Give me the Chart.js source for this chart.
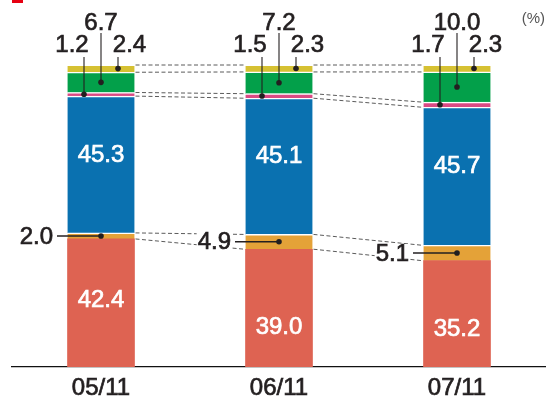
<!DOCTYPE html>
<html>
<head>
<meta charset="utf-8">
<style>
  html, body { margin: 0; padding: 0; background: #fff; }
  #wrap { position: relative; width: 546px; height: 397px; }
</style>
<script src="https://cdn.jsdelivr.net/npm/chart.js@4/dist/chart.umd.min.js"></script>
</head>
<body>
<div id="wrap"><canvas id="c" width="546" height="397"></canvas></div>
<script>
// Period labels and composition shares (%), bottom segment first
const categories  = ['05/11', '06/11', '07/11'];
const redShare    = [42.4, 39.0, 35.2];
const orangeShare = [2.0, 4.9, 5.1];
const blueShare   = [45.3, 45.1, 45.7];
const pinkShare   = [1.2, 1.5, 1.7];
const greenShare  = [6.7, 7.2, 10.0];
const yellowShare = [2.4, 2.3, 2.3];
const unitLabel   = '(%)';

// where the value sits inside the red segment (fraction of its height from the base)
const redLabelLift = [0.52, 0.34, 0.35];

const COLORS = {
  red: '#de6352', orange: '#e4a238', blue: '#0a71b0',
  pink: '#da4a84', green: '#03a04a', yellow: '#d6c132'
};
const TEXT = '#231f20';
const FONT = '"Liberation Sans", Arial, Helvetica, sans-serif';
const GAP = 1.4; // white separator between stacked segments

function seg(data, color, top) {
  return {
    data, backgroundColor: color, borderColor: '#fff',
    borderWidth: { top: top ? GAP : 0, bottom: 0, left: 0, right: 0 },
    borderSkipped: false, barThickness: 67
  };
}

function txt(ctx, s, x, y, align, color) {
  ctx.save();
  ctx.font = '24px ' + FONT;
  ctx.textAlign = align;
  ctx.textBaseline = 'middle';
  ctx.fillStyle = color;
  ctx.strokeStyle = color;
  ctx.lineWidth = 0.7;
  ctx.fillText(s, x, y);
  ctx.strokeText(s, x, y);
  ctx.restore();
}

function leader(ctx, x1, y1, x2, y2, w) {
  ctx.save();
  ctx.strokeStyle = TEXT;
  ctx.lineWidth = w;
  ctx.beginPath();
  ctx.moveTo(x1, y1);
  ctx.lineTo(x2, y2);
  ctx.stroke();
  ctx.fillStyle = TEXT;
  ctx.beginPath();
  ctx.arc(x2, y2, 2.8, 0, Math.PI * 2);
  ctx.fill();
  ctx.restore();
}

const annotations = {
  id: 'annotations',
  afterDatasetsDraw(chart) {
    const ctx = chart.ctx;
    const metas = chart.data.datasets.map((d, i) => chart.getDatasetMeta(i).data);
    const [red, orange, blue, pink, green, yellow] = metas;
    const n = categories.length;
    const xScale = chart.scales.x;

    // category labels under the axis
    categories.forEach((c, i) => {
      txt(ctx, c, xScale.getPixelForTick(i), chart.chartArea.bottom + 21, 'center', TEXT);
    });

    // dashed connectors between neighbouring bars for the thin segments
    ctx.save();
    ctx.strokeStyle = '#5a5a5a';
    ctx.lineWidth = 1;
    ctx.setLineDash([4, 2.5]);
    [orange, pink, yellow].forEach(bars => {
      for (let i = 0; i < n - 1; i++) {
        const a = bars[i], b = bars[i + 1];
        ['y', 'base'].forEach(k => {
          ctx.beginPath();
          ctx.moveTo(a.x + a.width / 2 + 1, a[k]);
          ctx.lineTo(b.x - b.width / 2 - 1, b[k]);
          ctx.stroke();
        });
      }
    });
    ctx.restore();

    for (let i = 0; i < n; i++) {
      const cx = red[i].x;
      const top = yellow[i].y;

      // values inside the large segments
      const bl = blue[i];
      txt(ctx, blueShare[i].toFixed(1), cx, bl.base - 0.57 * (bl.base - bl.y), 'center', '#fff');
      const rd = red[i];
      txt(ctx, redShare[i].toFixed(1), cx, rd.base - redLabelLift[i] * (rd.base - rd.y), 'center', '#fff');

      // callouts above the bar
      const mid = el => (el.y + el.base) / 2;
      txt(ctx, greenShare[i].toFixed(1), cx, top - 42, 'center', TEXT);
      leader(ctx, cx, top - 32, cx, mid(green[i]), 1.1);
      txt(ctx, pinkShare[i].toFixed(1), cx - 29, top - 20, 'center', TEXT);
      leader(ctx, cx - 17, top - 8, cx - 17, mid(pink[i]), 1.1);
      txt(ctx, yellowShare[i].toFixed(1), cx + 28.5, top - 20, 'center', TEXT);
      leader(ctx, cx + 17, top - 8, cx + 17, mid(yellow[i]), 1.1);

      // callout for the small segment, left of the bar
      const oy = mid(orange[i]);
      const s = orangeShare[i].toFixed(1);
      ctx.save();
      ctx.font = '24px ' + FONT;
      const w = ctx.measureText(s).width;
      ctx.fillStyle = '#fff';
      ctx.fillRect(cx - 49 - w, oy - 9, w + 2, 19);
      ctx.restore();
      txt(ctx, s, cx - 48, oy + 1, 'right', TEXT);
      leader(ctx, cx - 44, oy, cx, oy, 1.5);
    }

    // unit note
    ctx.save();
    ctx.font = '15px ' + FONT;
    ctx.fillStyle = '#555';
    ctx.textAlign = 'right';
    ctx.textBaseline = 'middle';
    ctx.fillText(unitLabel, 545, 19);
    ctx.restore();

    // heading marker (top edge)
    ctx.save();
    ctx.fillStyle = '#e60012';
    ctx.fillRect(12, 0, 11, 3);
    ctx.restore();
  }
};

new Chart(document.getElementById('c'), {
  type: 'bar',
  data: {
    labels: categories,
    datasets: [
      seg(redShare, COLORS.red, false),
      seg(orangeShare, COLORS.orange, true),
      seg(blueShare, COLORS.blue, true),
      seg(pinkShare, COLORS.pink, true),
      seg(greenShare, COLORS.green, true),
      seg(yellowShare, COLORS.yellow, true)
    ]
  },
  options: {
    responsive: false,
    animation: false,
    devicePixelRatio: 1,
    layout: { padding: { top: 65, left: 12, right: 0, bottom: 30 } },
    plugins: { legend: { display: false }, tooltip: { enabled: false } },
    scales: {
      x: {
        stacked: true,
        grid: { display: false, drawTicks: false },
        border: { display: true, color: '#111', width: 1.2 },
        ticks: { display: false }
      },
      y: { stacked: true, display: false, min: 0, max: 100 }
    }
  },
  plugins: [annotations]
});
</script>
</body>
</html>
